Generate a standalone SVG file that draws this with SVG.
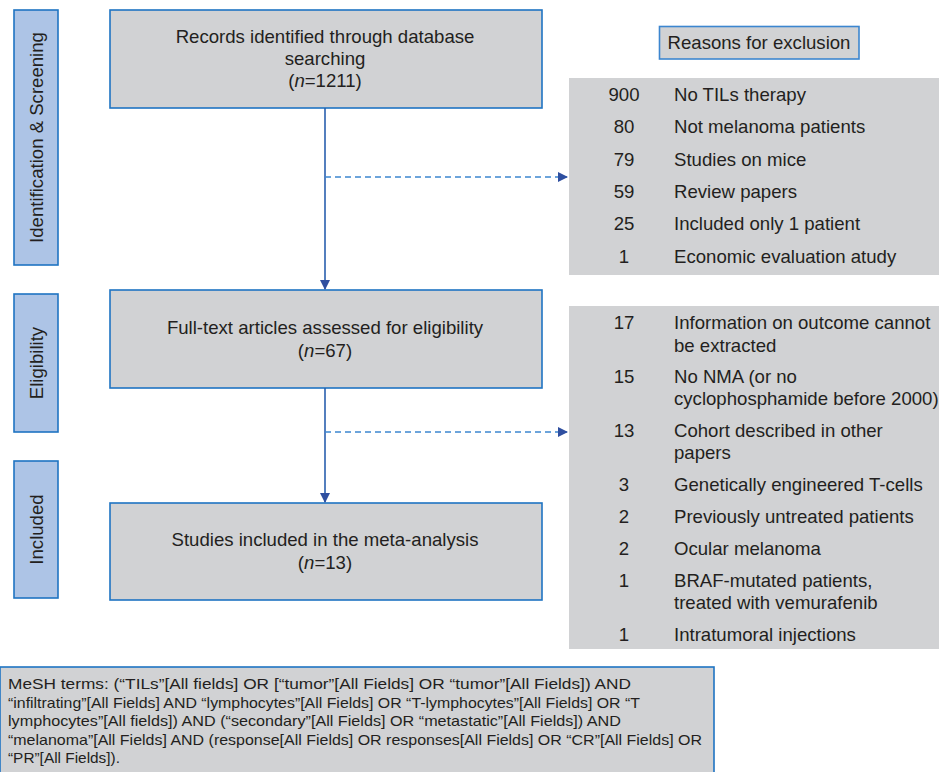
<svg xmlns="http://www.w3.org/2000/svg" width="939" height="772" viewBox="0 0 939 772">
<style>
text{font-family:"Liberation Sans",Arial,sans-serif;fill:#231f20;font-size:18.6px}
.main{fill:#d1d2d4;stroke:#1f74c2;stroke-width:1.6}
.side{fill:#adc4e6;stroke:#1f74c2;stroke-width:1.6}
.panel{fill:#d1d2d4}
.c{text-anchor:middle}
.solid{stroke:#2a5fae;stroke-width:1.6;fill:none}
.dash{stroke:#3c86cf;stroke-width:1.6;fill:none;stroke-dasharray:6 4}
.mesh{font-size:15px}
</style>
<defs>
<marker id="ah" markerWidth="10" markerHeight="10" refX="9" refY="5" orient="auto" markerUnits="userSpaceOnUse">
<path d="M0,0 L10,5 L0,10 z" fill="#2f4fa0"/>
</marker>
</defs>
<g id="side-identification">
<rect class="side" x="14" y="10" width="44" height="255"/>
<text class="c" transform="translate(42.5,137.5) rotate(-90)">Identification &amp; Screening</text>
</g>
<g id="side-eligibility">
<rect class="side" x="14" y="294" width="44" height="138"/>
<text class="c" transform="translate(42.5,363) rotate(-90)">Eligibility</text>
</g>
<g id="side-included">
<rect class="side" x="14" y="461" width="44" height="137"/>
<text class="c" transform="translate(42.5,529.5) rotate(-90)">Included</text>
</g>
<g id="box-records">
<rect class="main" x="110" y="10" width="432" height="98"/>
<text class="c" x="325" y="43">Records identified through database</text>
<text class="c" x="325" y="65">searching</text>
<text class="c" x="325" y="87">(<tspan font-style="italic">n</tspan>=1211)</text>
</g>
<g id="box-fulltext">
<rect class="main" x="110" y="290" width="432" height="98"/>
<text class="c" x="325" y="334">Full-text articles assessed for eligibility</text>
<text class="c" x="325" y="357">(<tspan font-style="italic">n</tspan>=67)</text>
</g>
<g id="box-included">
<rect class="main" x="110" y="503" width="432" height="97"/>
<text class="c" x="325" y="546">Studies included in the meta-analysis</text>
<text class="c" x="325" y="569">(<tspan font-style="italic">n</tspan>=13)</text>
</g>
<g id="reasons-header">
<rect x="659.5" y="26.5" width="199.5" height="32.5" fill="#d1d2d4" stroke="#3c86cf" stroke-width="1.6"/>
<text class="c" x="759" y="49">Reasons for exclusion</text>
</g>
<g id="exclusion-1">
<rect class="panel" x="569" y="78" width="370" height="197"/>
<g class="c">
<text x="624" y="101">900</text>
<text x="624" y="133">80</text>
<text x="624" y="166">79</text>
<text x="624" y="198">59</text>
<text x="624" y="230">25</text>
<text x="624" y="263">1</text>
</g>
<text x="674" y="101">No TILs therapy</text>
<text x="674" y="133">Not melanoma patients</text>
<text x="674" y="166">Studies on mice</text>
<text x="674" y="198">Review papers</text>
<text x="674" y="230">Included only 1 patient</text>
<text x="674" y="263">Economic evaluation atudy</text>
</g>
<g id="exclusion-2">
<rect class="panel" x="569" y="306" width="370" height="343"/>
<g class="c">
<text x="624" y="329">17</text>
<text x="624" y="383">15</text>
<text x="624" y="437">13</text>
<text x="624" y="491">3</text>
<text x="624" y="523">2</text>
<text x="624" y="555">2</text>
<text x="624" y="587">1</text>
<text x="624" y="641">1</text>
</g>
<text x="674" y="329">Information on outcome cannot</text>
<text x="674" y="352">be extracted</text>
<text x="674" y="383">No NMA (or no</text>
<text x="674" y="405">cyclophosphamide before 2000)</text>
<text x="674" y="437">Cohort described in other</text>
<text x="674" y="459">papers</text>
<text x="674" y="491">Genetically engineered T-cells</text>
<text x="674" y="523">Previously untreated patients</text>
<text x="674" y="555">Ocular melanoma</text>
<text x="674" y="587">BRAF-mutated patients,</text>
<text x="674" y="609">treated with vemurafenib</text>
<text x="674" y="641">Intratumoral injections</text>
</g>
<g id="connectors">
<line class="solid" x1="325" y1="108" x2="325" y2="289" marker-end="url(#ah)"/>
<line class="dash" x1="325" y1="177" x2="567" y2="177" marker-end="url(#ah)"/>
<line class="solid" x1="325" y1="388" x2="325" y2="502" marker-end="url(#ah)"/>
<line class="dash" x1="325" y1="432" x2="567" y2="432" marker-end="url(#ah)"/>
</g>
<g id="mesh-terms">
<rect x="0" y="667" width="714" height="110" fill="#d1d2d4" stroke="#1f74c2" stroke-width="1.6"/>
<text class="mesh" x="8" y="689" textLength="623" lengthAdjust="spacingAndGlyphs">MeSH terms: (“TILs”[All fields] OR [“tumor”[All Fields] OR “tumor”[All Fields]) AND</text>
<text class="mesh" x="8" y="707.5" textLength="632" lengthAdjust="spacingAndGlyphs">“infiltrating”[All Fields] AND “lymphocytes”[All Fields] OR “T-lymphocytes”[All Fields] OR “T</text>
<text class="mesh" x="8" y="726" textLength="613" lengthAdjust="spacingAndGlyphs">lymphocytes”[All fields]) AND (“secondary”[All Fields] OR “metastatic”[All Fields]) AND</text>
<text class="mesh" x="8" y="744.5" textLength="694" lengthAdjust="spacingAndGlyphs">“melanoma”[All Fields] AND (response[All Fields] OR responses[All Fields] OR “CR”[All Fields] OR</text>
<text class="mesh" x="8" y="763" textLength="112" lengthAdjust="spacingAndGlyphs">“PR”[All Fields]).</text>
</g>
</svg>
